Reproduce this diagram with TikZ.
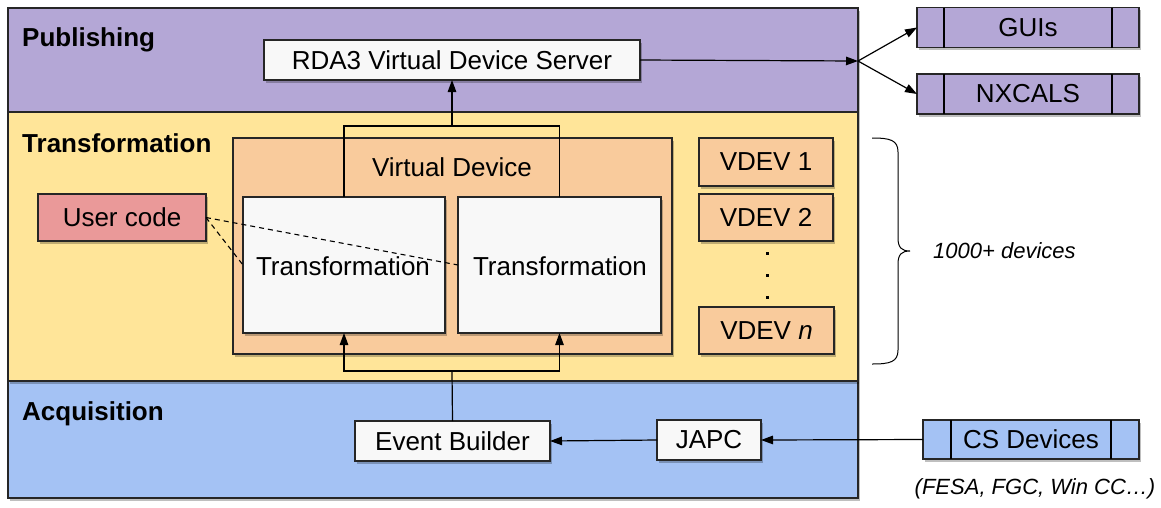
\documentclass[tikz,border=0pt]{standalone}
\usepackage{fontspec}
\setmainfont{Liberation Sans}
\usetikzlibrary{arrows.meta,shadows}
\definecolor{pubc}{HTML}{B4A7D6}
\definecolor{trc}{HTML}{FFE599}
\definecolor{acqc}{HTML}{A4C2F4}
\definecolor{vdc}{HTML}{F9CB9C}
\definecolor{usrc}{HTML}{EA9999}
\definecolor{whc}{HTML}{F8F8F8}
\definecolor{lnc}{HTML}{262626}
\begin{document}
\begin{tikzpicture}[x=1pt,y=-1pt,
  font=\fontsize{26}{30}\selectfont,
  shd/.style={drop shadow={shadow xshift=2pt,shadow yshift=-2.5pt,opacity=0.25,fill=black}},
  band/.style={draw=lnc, line width=1.2pt, anchor=north west, inner sep=0pt, outer sep=0pt, shd},
  box/.style={draw=lnc, line width=1.2pt, inner sep=0pt, outer sep=0pt, shd},
  secl/.style={anchor=base west, font=\fontsize{26}{30}\selectfont\bfseries, inner sep=0pt},
  arr/.style={draw=black, line width=1.2pt, -{Triangle[length=12pt,width=8.5pt]}},
  ln/.style={draw=black, line width=1.2pt},
  dsh/.style={draw=black, line width=1.1pt, dash pattern=on 5pt off 4pt},
  note/.style={font=\fontsize{22}{26}\selectfont\itshape, inner sep=0pt},
  dotm/.style={fill=black, minimum size=3pt, inner sep=0pt, outer sep=0pt}]
\useasboundingbox (0,0) rectangle (1161,507);

% bands
\node[band, fill=pubc, minimum width=850pt, minimum height=104pt] (pub) at (8,8) {};
\node[band, fill=acqc, minimum width=850pt, minimum height=117pt] (acq) at (8,381) {};
\node[band, fill=trc, minimum width=850pt, minimum height=269pt] (tra) at (8,112) {};

\node[secl] (publ) at (22,46) {Publishing};
\node[secl] (tral) at (22,152) {Transformation};
\node[secl] (acql) at (22,420) {Acquisition};

% publishing
\node[box, fill=whc, minimum width=376pt, minimum height=40pt] (rda) at (452,60) {RDA3 Virtual Device Server};

% outputs
\node[box, fill=pubc, minimum width=222pt, minimum height=40pt] (gui) at (1028,27.5) {GUIs};
\node[box, fill=pubc, minimum width=222pt, minimum height=40pt] (nx) at (1028,94) {NXCALS};
\draw[ln] ([xshift=27pt]gui.north west) -- ([xshift=27pt]gui.south west);
\draw[ln] ([xshift=-27pt]gui.north east) -- ([xshift=-27pt]gui.south east);
\draw[ln] ([xshift=27pt]nx.north west) -- ([xshift=27pt]nx.south west);
\draw[ln] ([xshift=-27pt]nx.north east) -- ([xshift=-27pt]nx.south east);

% transformation
\node[box, fill=vdc, minimum width=439pt, minimum height=216pt] (vd) at (452.5,246) {};
\node[inner sep=0pt] (vdl) at (452,167) {Virtual Device};
\node[box, fill=whc, minimum width=202pt, minimum height=136pt] (t1) at (344,265) {};
\node[box, fill=whc, minimum width=203pt, minimum height=136pt] (t2) at (559.5,265) {};
\node[inner sep=0pt] (t1l) at (343,266) {Transformation};
\node[inner sep=0pt] (t2l) at (560,266) {Transformation};

\node[box, fill=usrc, minimum width=168pt, minimum height=47pt] (usr) at (122,217.5) {User code};

\node[box, fill=vdc, minimum width=134pt, minimum height=48pt] (v1) at (766,162) {VDEV 1};
\node[box, fill=vdc, minimum width=134pt, minimum height=47pt] (v2) at (766,217.5) {VDEV 2};
\node[box, fill=vdc, minimum width=135pt, minimum height=47pt] (vn) at (766.5,330.5) {VDEV \textit{n}};
\node[dotm] (d1) at (767,253) {};
\node[dotm] (d2) at (767,275) {};
\node[dotm] (d3) at (767,297) {};

% brace
\coordinate (btop) at (872,138);
\coordinate (btip) at (910,251);
\coordinate (bbot) at (872,364);
\draw[draw=black, line width=1pt] (btop) .. controls (890,138) and (898,140) .. (898,152) -- (898,238)
  .. controls (898,248) and (902,251) .. (btip) .. controls (902,251) and (898,254) .. (898,264)
  -- (898,350) .. controls (898,362) and (890,364) .. (bbot);
\node[note, anchor=west] (devn) at (933,251) {1000+ devices};

% acquisition
\node[box, fill=whc, minimum width=195pt, minimum height=40pt] (eb) at (452.5,441) {Event Builder};
\node[box, fill=whc, minimum width=104pt, minimum height=40pt] (japc) at (709,440) {JAPC};
\node[box, fill=acqc, minimum width=216pt, minimum height=39pt] (cs) at (1031,439.5) {CS Devices};
\draw[ln] ([xshift=28pt]cs.north west) -- ([xshift=28pt]cs.south west);
\draw[ln] ([xshift=-28pt]cs.north east) -- ([xshift=-28pt]cs.south east);
\node[note] (csn) at (1035,489) {(FESA, FGC, Win CC…)};

% connectors
\coordinate (split) at (858,61);
\draw[arr] (rda.east) -- (split);
\draw[arr] (split) -- (gui.west);
\draw[arr] (split) -- (nx.west);

\coordinate (vtop) at (452,126);
\draw[ln] (t1.north) |- (vtop) -| (t2.north);
\draw[arr] (vtop) -- (rda.south);

\coordinate (vbot) at (452,371);
\draw[ln] (eb.north) -- (vbot);
\draw[arr] (vbot) -| (t1.south);
\draw[arr] (vbot) -| (t2.south);

\draw[arr] (cs.west) -- (japc.east);
\draw[arr] (japc.west) -- (eb.east);

\draw[dsh] (usr.east) -- (t1.west);
\draw[dsh] (usr.east) -- (t2.west);
\end{tikzpicture}
\end{document}
